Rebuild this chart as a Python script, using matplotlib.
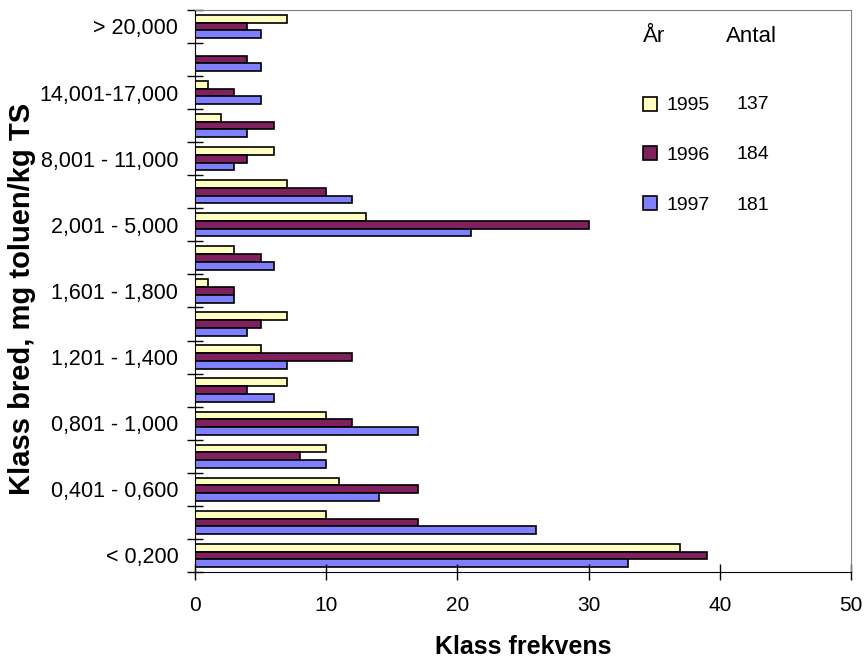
import numpy as np
import matplotlib.pyplot as plt

plt.rcParams['font.family'] = ['Liberation Sans', 'DejaVu Sans']

# class widths, bottom to top (mg toluen/kg TS)
classes = ['< 0,200', '0,201 - 0,400', '0,401 - 0,600', '0,601 - 0,800',
           '0,801 - 1,000', '1,001 - 1,200', '1,201 - 1,400', '1,401 - 1,600',
           '1,601 - 1,800', '1,801 - 2,000', '2,001 - 5,000', '5,001 - 8,000',
           '8,001 - 11,000', '11,001-14,000', '14,001-17,000', '17,001-20,000',
           '> 20,000']

freq_1995 = [37, 10, 11, 10, 10, 7, 5, 7, 1, 3, 13, 7, 6, 2, 1, 0, 7]
freq_1996 = [39, 17, 17, 8, 12, 4, 12, 5, 3, 5, 30, 10, 4, 6, 3, 4, 4]
freq_1997 = [33, 26, 14, 10, 17, 6, 7, 4, 3, 6, 21, 12, 3, 4, 5, 5, 5]

years = ['1995', '1996', '1997']
counts = ['137', '184', '181']
colors = ['#FFFFC0', '#80205F', '#8080FF']

fig = plt.figure(figsize=(8.64, 6.58), dpi=100)
ax = fig.add_axes([0.2257, 0.1307, 0.7593, 0.8543])

y = np.arange(len(classes))
h = 0.235
series = [freq_1995, freq_1996, freq_1997]
offsets = [h, 0, -h]
handles = []
for vals, off, col in zip(series, offsets, colors):
    b = ax.barh(y + off, vals, height=h, color=col, edgecolor='black',
                linewidth=1.2)
    handles.append(b)

ax.set_xlim(0, 50)
ax.set_ylim(-0.5, len(classes) - 0.5)

# tick marks between classes, labels on every other class
ax.set_yticks(np.arange(-0.5, len(classes), 1.0))
ax.set_yticklabels([])
ax.set_yticks(y[::2], minor=True)
ax.set_yticklabels(classes[::2], minor=True, fontsize=15.5)
ax.tick_params(axis='y', which='major', direction='inout', length=11, width=1)
ax.tick_params(axis='y', which='minor', length=0, pad=12)

ax.set_xticks(np.arange(0, 51, 10))
ax.tick_params(axis='x', direction='inout', length=12, width=1, labelsize=15,
               pad=11)

for side in ['top', 'right']:
    ax.spines[side].set_color('#808080')
for side in ['left', 'bottom']:
    ax.spines[side].set_color('black')

ax.set_xlabel('Klass frekvens', fontsize=18, fontweight='bold')
ax.set_ylabel('Klass bred, mg toluen/kg TS', fontsize=21, fontweight='bold')
ax.xaxis.set_label_coords(0.5, -0.134)
ax.xaxis.label.set_va('center')
ax.yaxis.set_label_coords(-0.263, 0.485)
ax.yaxis.label.set_va('center')

# legend: year with number of samples
ax.text(0.683, 0.952, 'År', transform=ax.transAxes, fontsize=16,
        va='center', ha='left')
ax.text(0.8096, 0.952, 'Antal', transform=ax.transAxes, fontsize=16,
        va='center', ha='left')
ax.legend(handles, years, loc='upper left', bbox_to_anchor=(0.656, 0.877),
          frameon=False, fontsize=14, handlelength=0.75, handleheight=0.75,
          handletextpad=0.45, labelspacing=1.63)
for row_y, n in zip([0.8345, 0.7456, 0.6548], counts):
    ax.text(0.826, row_y, n, transform=ax.transAxes, fontsize=14,
            va='center_baseline', ha='left')

fig.savefig('out.png', dpi=100)
